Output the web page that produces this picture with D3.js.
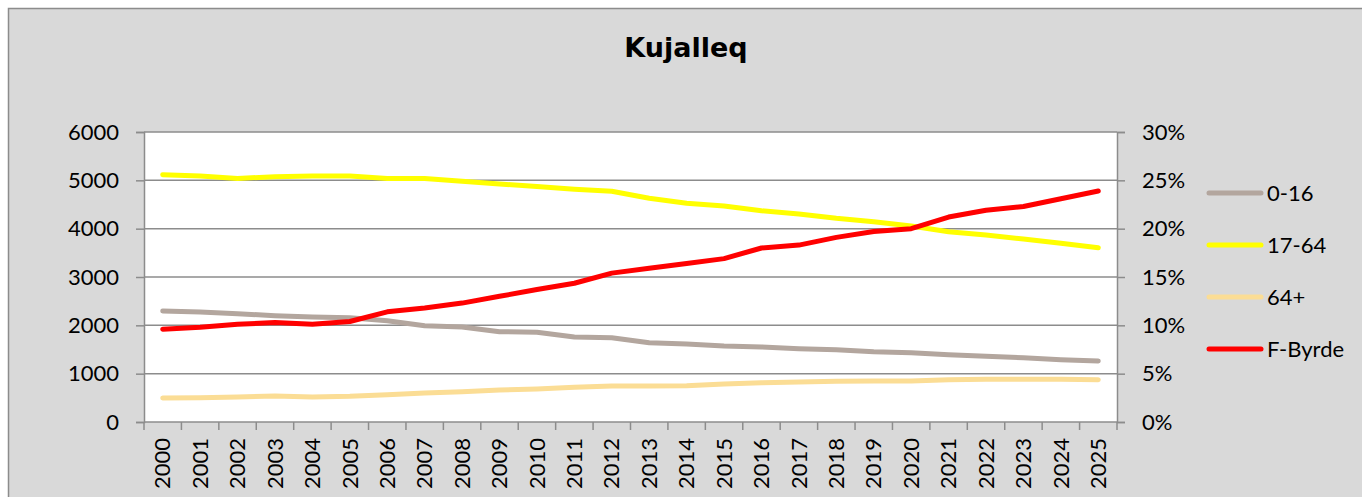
<!DOCTYPE html>
<html>
<head>
<meta charset="utf-8">
<script src="https://cdn.jsdelivr.net/npm/d3@7"></script>
<style>
  body { margin: 0; background: #ffffff; }
  text { font-family: Lato, "Open Sans", sans-serif; fill: #000; }
</style>
</head>
<body>
<div id="plot"></div>
<script>
// ---- data ----
var years = ["2000","2001","2002","2003","2004","2005","2006","2007","2008","2009","2010","2011","2012",
             "2013","2014","2015","2016","2017","2018","2019","2020","2021","2022","2023","2024","2025"];

var age0to16 = [2297,2276,2241,2200,2172,2158,2096,1993,1966,1869,1855,1759,1745,
                1641,1614,1572,1552,1517,1496,1455,1434,1393,1359,1330,1289,1262];

var age17to64 = [5117,5090,5040,5075,5090,5090,5040,5040,4980,4925,4870,4815,4773,
                 4628,4525,4469,4372,4303,4214,4144,4055,3937,3869,3786,3697,3606];

var age64plus = [497,503,517,538,517,531,565,600,628,662,683,718,745,
                 745,752,786,813,828,842,848,848,875,883,883,883,875];

// F-Byrde (right axis, percent)
var fByrde = [9.6,9.8,10.1,10.3,10.1,10.4,11.4,11.8,12.3,13.0,13.7,14.35,15.4,
              15.9,16.4,16.9,18.0,18.3,19.1,19.7,20.0,21.2,21.9,22.3,23.1,23.9];

var leftTicks = [0,1000,2000,3000,4000,5000,6000];
var rightTicks = [0,5,10,15,20,25,30];

var seriesNames = ["0-16","17-64","64+","F-Byrde"];
var seriesColors = ["#b3a69e","#ffff00","#fbdd95","#ff0000"];

// ---- layout ----
var W = 1362, H = 497;
var margin = {top: 132, left: 144, right: 245, bottom: 75};
var width = 1117 - margin.left,
    height = 422 - margin.top;

var svg = d3.select("#plot").append("svg")
  .attr("width", W).attr("height", H);

// chart background + border
svg.append("rect")
  .attr("x", 8.5).attr("y", 8.5)
  .attr("width", 1400).attr("height", 600)
  .attr("fill", "#d9d9d9")
  .attr("stroke", "#8c8c8c").attr("stroke-width", 1.5);

svg.append("text")
  .attr("x", 686).attr("y", 57)
  .attr("text-anchor", "middle")
  .style("font-family", "'DejaVu Sans', sans-serif")
  .style("font-weight", "bold")
  .style("font-size", "27px")
  .text("Kujalleq");

var g = svg.append("g")
  .attr("transform", "translate(" + margin.left + "," + margin.top + ")");

// scales
var x = d3.scaleBand().domain(years).range([0, width]);
var y = d3.scaleLinear().domain([0, 6000]).range([height, 0]);
var y2 = d3.scaleLinear().domain([0, 30]).range([height, 0]);

// plot area
g.append("rect")
  .attr("width", width).attr("height", height)
  .attr("fill", "#ffffff");

// gridlines
g.append("g").selectAll("line")
  .data(leftTicks.filter(function(d){ return d > 0; }))
  .enter().append("line")
  .attr("x1", 0).attr("x2", width)
  .attr("y1", function(d){ return y(d); })
  .attr("y2", function(d){ return y(d); })
  .attr("stroke", "#8c8c8c").attr("stroke-width", 1.5);

// left axis
var yAxis = g.append("g")
  .call(d3.axisLeft(y).tickValues(leftTicks).tickSize(8).tickPadding(17).tickFormat(d3.format("d")));
yAxis.selectAll("text").style("font-size", "22px").style("font-family", "Lato, sans-serif");

// right axis
var y2Axis = g.append("g")
  .attr("transform", "translate(" + width + ",0)")
  .call(d3.axisRight(y2).tickValues(rightTicks).tickSize(8).tickPadding(17)
        .tickFormat(function(d){ return d + "%"; }));
y2Axis.selectAll("text").style("font-size", "22px").style("font-family", "Lato, sans-serif");

// bottom axis: ticks between categories
var xAxis = g.append("g")
  .attr("transform", "translate(0," + height + ")")
  .call(d3.axisBottom(x).tickSize(0).tickPadding(0));
xAxis.select(".domain").remove();
xAxis.selectAll("text")
  .style("font-size", "22px")
  .style("font-family", "Lato, sans-serif")
  .attr("transform", "rotate(-90)")
  .attr("text-anchor", "end")
  .attr("dy", "0.35em")
  .attr("x", -16)
  .attr("y", 0);

g.append("g").selectAll("line")
  .data(years.concat(["end"]))
  .enter().append("line")
  .attr("x1", function(d, i){ return i * x.step(); })
  .attr("x2", function(d, i){ return i * x.step(); })
  .attr("y1", height).attr("y2", height + 8)
  .attr("stroke", "#8c8c8c").attr("stroke-width", 1.5);

[yAxis, y2Axis].forEach(function(a){
  a.selectAll(".domain").attr("stroke", "#8c8c8c").attr("stroke-width", 1.5);
  a.selectAll(".tick line").attr("stroke", "#8c8c8c").attr("stroke-width", 1.5);
});
g.append("line")
  .attr("x1", 0).attr("x2", width)
  .attr("y1", height).attr("y2", height)
  .attr("stroke", "#8c8c8c").attr("stroke-width", 1.5);

// lines
var cx = function(i){ return x(years[i]) + x.bandwidth() / 2; };
var leftLine = d3.line().x(function(d, i){ return cx(i); }).y(function(d){ return y(d); });
var rightLine = d3.line().x(function(d, i){ return cx(i); }).y(function(d){ return y2(d); });

var seriesData = [age0to16, age17to64, age64plus];
seriesData.forEach(function(s, k){
  g.append("path")
    .datum(s)
    .attr("d", leftLine)
    .attr("fill", "none")
    .attr("stroke", seriesColors[k])
    .attr("stroke-width", 5)
    .attr("stroke-linecap", "round")
    .attr("stroke-linejoin", "round");
});
g.append("path")
  .datum(fByrde)
  .attr("d", rightLine)
  .attr("fill", "none")
  .attr("stroke", seriesColors[3])
  .attr("stroke-width", 5)
  .attr("stroke-linecap", "round")
  .attr("stroke-linejoin", "round");

// legend
var legend = svg.append("g").selectAll("g")
  .data(seriesNames)
  .enter().append("g")
  .attr("transform", function(d, i){ return "translate(1209," + (193 + i * 52) + ")"; });
legend.append("line")
  .attr("x1", 0).attr("x2", 52)
  .attr("stroke", function(d, i){ return seriesColors[i]; })
  .attr("stroke-width", 5)
  .attr("stroke-linecap", "round");
legend.append("text")
  .attr("x", 58).attr("dy", "0.35em")
  .style("font-size", "22px")
  .text(function(d){ return d; });
</script>
</body>
</html>
